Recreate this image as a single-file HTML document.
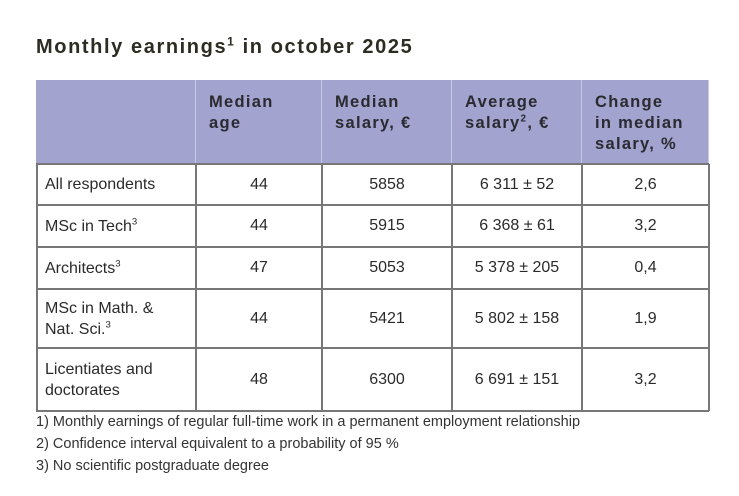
<!DOCTYPE html>
<html><head><meta charset="utf-8"><style>
body{margin:0;width:739px;height:496px;background:#fff;position:relative;overflow:hidden;font-family:"Liberation Sans","DejaVu Sans",sans-serif;color:#2a2a2a}
.t{position:absolute;left:36px;top:36px;font-size:20px;font-weight:bold;letter-spacing:1.6px;color:#2c2c22}
.c{position:absolute;box-sizing:border-box;font-size:16px}
.h{background:#a3a3cf;font-weight:bold;font-size:16.5px;line-height:21px;padding:12px 0 0 13px;letter-spacing:1.3px;color:#2a2a30}
.v{display:flex;align-items:center;justify-content:center}
.l{display:flex;align-items:center;padding-left:9px;line-height:21px}
.ln{position:absolute;background:#777}
.f{position:absolute;left:36px;font-size:14.5px;color:#333}
sup{font-size:0.6em;vertical-align:super;line-height:0}
</style></head><body>
<div class="t">Monthly earnings<sup>1</sup> in october 2025</div>
<div id="tbl"></div>
<div class="f" style="top:414px">1) Monthly earnings of regular full-time work in a permanent employment relationship</div>
<div class="f" style="top:436px">2) Confidence interval equivalent to a probability of 95 %</div>
<div class="f" style="top:458px">3) No scientific postgraduate degree</div>
<script>
const headers=["","Median<br>age","Median<br>salary, €","Average<br>salary<sup>2</sup>, €","Change<br>in median<br>salary, %"];
const rowLabels=["All respondents","MSc in Tech<sup>3</sup>","Architects<sup>3</sup>","MSc in Math. &amp;<br>Nat. Sci.<sup>3</sup>","Licentiates and<br>doctorates"];
const medianAge=["44","44","47","44","48"];
const medianSalary=["5858","5915","5053","5421","6300"];
const avgSalary=["6 311 ± 52","6 368 ± 61","5 378 ± 205","5 802 ± 158","6 691 ± 151"];
const change=["2,6","3,2","0,4","1,9","3,2"];
const colX=[36,196,322,452,582,709];
const rowY=[80,164,205,247,289,348,411];
const T=document.getElementById('tbl');
function cell(x,y,w,h,cls,html){const d=document.createElement('div');d.className='c '+cls;d.style.cssText=`left:${x}px;top:${y}px;width:${w}px;height:${h}px`;d.innerHTML='<span>'+html+'</span>';T.appendChild(d);return d;}
headers.forEach((hd,i)=>{const d=cell(colX[i],rowY[0],colX[i+1]-colX[i],rowY[1]-rowY[0],'h',hd);

});
const cols=[medianAge,medianSalary,avgSalary,change];
rowLabels.forEach((lab,r)=>{const y=rowY[r+1],h=rowY[r+2]-y;
const d=cell(colX[0],y,colX[1]-colX[0],h,'l',lab);


cols.forEach((arr,c)=>{const e=cell(colX[c+1],y,colX[c+2]-colX[c+1],h,'v',arr[r]);

});});
function line(x,y,w,h,col){const d=document.createElement('div');d.className='ln';d.style.cssText=`left:${x}px;top:${y}px;width:${w}px;height:${h}px;background:${col}`;T.appendChild(d);

}
for(let i=1;i<colX.length;i++){line(colX[i]-1,rowY[0],1,rowY[1]-rowY[0],'#c9c9e6');line(colX[i]-1,rowY[1],1.5,rowY[6]-rowY[1],'#777');}
line(colX[0],rowY[1],1.5,rowY[6]-rowY[1],'#777');
for(let j=1;j<rowY.length;j++)line(colX[0],rowY[j]-1,colX[5]-colX[0],1.5,'#777');
</script>
</body></html>
